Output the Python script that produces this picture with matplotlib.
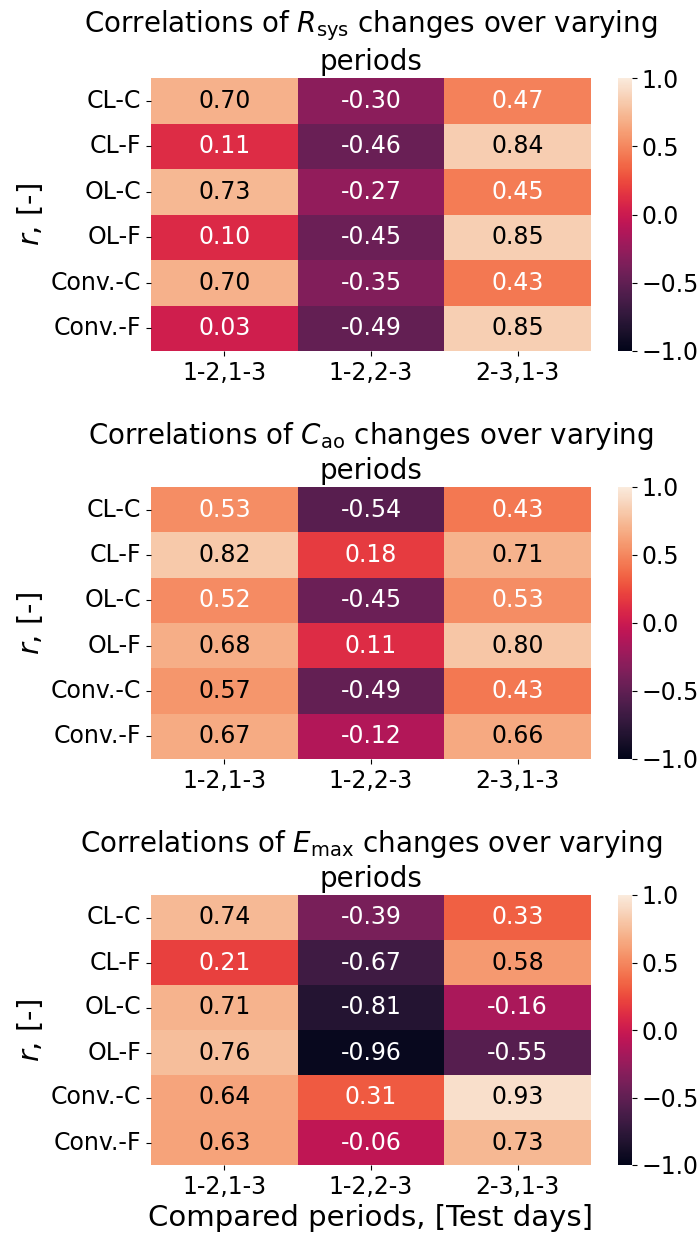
import numpy as np
import pandas as pd
import matplotlib
matplotlib.use('Agg')
import matplotlib.pyplot as plt
import seaborn as sns

plt.rcParams['font.family'] = ['DejaVu Sans']

methods = ['CL-C', 'CL-F', 'OL-C', 'OL-F', 'Conv.-C', 'Conv.-F']
periods = ['1-2,1-3', '1-2,2-3', '2-3,1-3']

r_rsys = [[0.70, -0.30, 0.47],
          [0.11, -0.46, 0.84],
          [0.73, -0.27, 0.45],
          [0.10, -0.45, 0.85],
          [0.70, -0.35, 0.43],
          [0.03, -0.49, 0.85]]

r_cao = [[0.53, -0.54, 0.43],
         [0.82, 0.18, 0.71],
         [0.52, -0.45, 0.53],
         [0.68, 0.11, 0.80],
         [0.57, -0.49, 0.43],
         [0.67, -0.12, 0.66]]

r_emax = [[0.74, -0.39, 0.33],
          [0.21, -0.67, 0.58],
          [0.71, -0.81, -0.16],
          [0.76, -0.96, -0.55],
          [0.64, 0.31, 0.93],
          [0.63, -0.06, 0.73]]

params = [(r'$R_\mathrm{sys}$', r_rsys),
          (r'$C_\mathrm{ao}$', r_cao),
          (r'$E_\mathrm{max}$', r_emax)]

W, H = 700, 1238
fig = plt.figure(figsize=(W / 100, H / 100), dpi=100)

# pixel boxes (top, bottom) for each heatmap
rows = [(78, 351), (487, 759), (895, 1165)]
x0, x1 = 151, 591
cx0, cx1 = 618, 632

for i, ((name, vals), (t, b)) in enumerate(zip(params, rows)):
    ax = fig.add_axes([x0 / W, 1 - b / H, (x1 - x0) / W, (b - t) / H])
    cax = fig.add_axes([cx0 / W, 1 - b / H, (cx1 - cx0) / W, (b - t) / H])
    df = pd.DataFrame(vals, index=methods, columns=periods)
    sns.heatmap(df, ax=ax, cbar_ax=cax, vmin=-1, vmax=1, annot=True,
                fmt='.2f', annot_kws={'size': 17})
    # dark annotations in plain black on light cells
    for txt in ax.texts:
        if txt.get_color() != 'w':
            txt.set_color('black')
    ax.set_title('Correlations of ' + name + ' changes over varying\nperiods',
                 fontsize=20)
    ax.tick_params(axis='both', labelsize=17)
    ax.set_yticklabels(methods, rotation=0)
    ax.set_xticklabels(periods, rotation=0)
    ax.set_ylabel(r'$r$, [-]', fontsize=21)
    if i == 2:
        ax.set_xlabel('Compared periods, [Test days]', fontsize=21)
    else:
        ax.set_xlabel('')
    cax.tick_params(labelsize=17)
    cax.set_yticks([-1, -0.5, 0, 0.5, 1])

fig.savefig('out.png', dpi=100)
